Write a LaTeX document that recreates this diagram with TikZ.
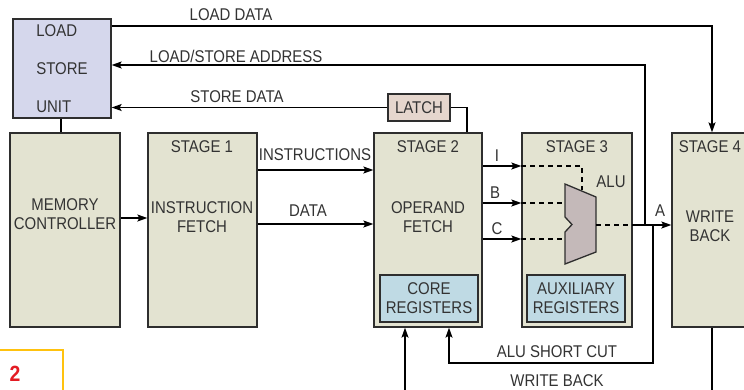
\documentclass[tikz,border=0pt]{standalone}
\usepackage{fontspec}
\setmainfont{Liberation Sans}[FakeStretch=0.88]
\usetikzlibrary{arrows.meta,positioning}
\definecolor{stagefill}{HTML}{E3E3D1}
\definecolor{lsufill}{HTML}{D5D7EC}
\definecolor{regfill}{HTML}{BFDAE4}
\definecolor{latchfill}{HTML}{E5D6CD}
\definecolor{alufill}{HTML}{C4B9B9}
\definecolor{edge}{HTML}{2E2E2E}
\definecolor{ink}{HTML}{333333}
\definecolor{figyellow}{HTML}{FFC20E}
\definecolor{figred}{HTML}{E31B23}
\begin{document}
\begin{tikzpicture}[x=1pt,y=-1pt,
        box/.style={draw=edge,line width=1.3pt,fill=stagefill,inner sep=0pt},
        txt/.style={text=ink,inner sep=0pt,align=center,font=\fontsize{17}{19}\selectfont},
        conn/.style={draw=black,line width=1.3pt},
        arr/.style={conn,-{Stealth[length=10pt,width=7pt,inset=2pt]}},
        dashline/.style={conn,dash pattern=on 5pt off 4pt}]
        \useasboundingbox (0,0) rectangle (744,389);
        \fill[white] (0,0) rectangle (744,389);
        \clip (0,0) rectangle (744,389);

        %the boxes
        \node[box,fill=lsufill,minimum width=98pt,minimum height=99pt,align=left,text=ink,
              font=\fontsize{17}{38}\selectfont] (lsu) at (62,68.5) {LOAD\\STORE\\UNIT};
        \node[box,minimum width=110pt,minimum height=194pt] (mc) at (65,230) {};
        \node[box,minimum width=109pt,minimum height=194pt] (s1) at (202.5,230) {};
        \node[box,minimum width=108pt,minimum height=194pt] (s2) at (428,230) {};
        \node[box,minimum width=110pt,minimum height=194pt] (s3) at (577,230) {};
        \node[box,minimum width=80pt,minimum height=194pt] (s4) at (712,230) {};
        \node[box,fill=regfill,minimum width=98pt,minimum height=47pt,txt] (core) at (429,298.5) {CORE\\REGISTERS};
        \node[box,fill=regfill,minimum width=98pt,minimum height=47pt,txt] (aux) at (576,298.5) {AUXILIARY\\REGISTERS};
        \node[box,fill=latchfill,minimum width=62pt,minimum height=27pt,txt] (latch) at (419,107.5) {LATCH};

        %texts in the stages
        \node[txt] (mct) at (65,214) {MEMORY\\CONTROLLER};
        \node[txt] (s1t) at (202,147) {STAGE 1};
        \node[txt] (s1b) at (202,217) {INSTRUCTION\\FETCH};
        \node[txt] (s2t) at (428,147) {STAGE 2};
        \node[txt] (s2b) at (428,217) {OPERAND\\FETCH};
        \node[txt] (s3t) at (577,147) {STAGE 3};
        \node[txt] (s4t) at (710,147) {STAGE 4};
        \node[txt] (s4b) at (710,226) {WRITE\\BACK};

        %the alu
        \coordinate (aluI) at (582,190);
        \coordinate (aluB) at (565,203);
        \coordinate (aluC) at (565,239);
        \coordinate (aluA) at (596,225);
        \draw[edge,line width=1.3pt,fill=alufill] (565,184) -- (596,197) -- (596,252) -- (565,264)
              -- (565,232) -- (572,224.5) -- (565,217) -- cycle;
        \node[txt] (alut) at (611,182) {ALU};

        %connectors
        \draw[conn] (lsu.south -| 61,0) -- (mc.north -| 61,0);
        \draw[arr] (mc.east |- 0,218) -- (s1.west |- 0,218);
        \draw[arr] (s1.east |- 0,170) -- (s2.west |- 0,170);
        \draw[arr] (s1.east |- 0,224) -- (s2.west |- 0,224);
        \draw[arr] (s2.east |- 0,166) -- (s3.west |- 0,166);
        \draw[arr] (s2.east |- 0,203) -- (s3.west |- 0,203);
        \draw[arr] (s2.east |- 0,239) -- (s3.west |- 0,239);
        \draw[dashline] (s3.west |- 0,166) -- (aluI |- 0,166) -- (aluI);
        \draw[dashline] (s3.west |- aluB) -- (aluB);
        \draw[dashline] (s3.west |- aluC) -- (aluC);
        \draw[dashline] (aluA) -- (s3.east |- aluA);
        \draw[arr] (s3.east |- aluA) -- (s4.west |- aluA);
        \coordinate (tap) at (645,225);
        \draw[arr] (tap) -- (645,65) -- (lsu.east |- 0,65);
        \draw[arr] (latch.west) -- (lsu.east |- latch.west);
        \draw[conn] (latch.east) -- (467,0 |- latch.east) -- (467,0 |- s2.north);
        \draw[arr] (lsu.east |- 0,26) -- (712,26) -- (s4.north);
        \draw[arr] (653,225) -- (653,363) -- (449,363) -- (449,0 |- s2.south);
        \draw[arr] (s4.south) -- (712,394) -- (405,394) -- (405,0 |- s2.south);

        %connector labels
        \node[txt] (ldl) at (231,15) {LOAD DATA};
        \node[txt] (lsal) at (236,56) {LOAD/STORE ADDRESS};
        \node[txt] (sdl) at (237,97) {STORE DATA};
        \node[txt] (insl) at (315,155) {INSTRUCTIONS};
        \node[txt] (datl) at (308,211) {DATA};
        \node[txt] (il) at (497,156) {I};
        \node[txt] (bl) at (495,193) {B};
        \node[txt] (cl) at (497,229) {C};
        \node[txt] (al) at (660,211) {A};
        \node[txt] (scl) at (557,352) {ALU SHORT CUT};
        \node[txt] (wbl) at (557,381) {WRITE BACK};

        %figure number
        \draw[figyellow,line width=2pt] (0,350) -- (63,350) -- (63,395);
        \node[text=figred,inner sep=0pt,font=\fontsize{22}{22}\selectfont\bfseries] (fig) at (15,373.5) {2};
\end{tikzpicture}
\end{document}
